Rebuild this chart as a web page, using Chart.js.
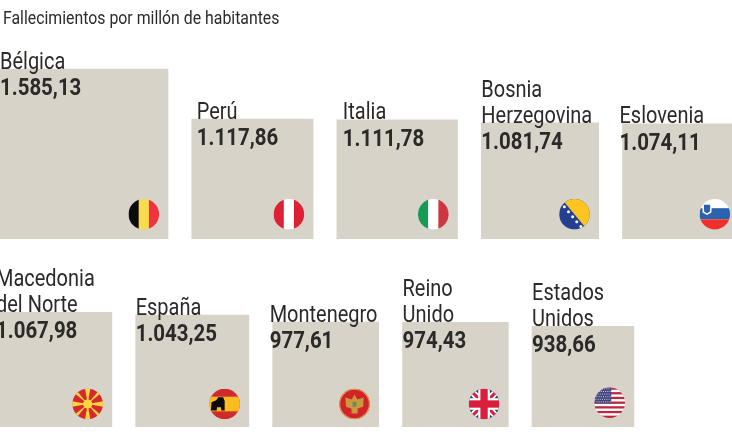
<!DOCTYPE html>
<html><head><meta charset="utf-8">
<style>html,body{margin:0;padding:0;background:#fff;overflow:hidden}canvas{display:block}</style>
<script src="https://cdn.jsdelivr.net/npm/chart.js@4/dist/chart.umd.min.js"></script>
</head><body>
<canvas id="c" width="732" height="435"></canvas>
<script>
const titleText = 'Fallecimientos por millón de habitantes';
const topNames = [['Bélgica'],['Perú'],['Italia'],['Bosnia','Herzegovina'],['Eslovenia']];
const topValues = [1585.13,1117.86,1111.78,1081.74,1074.11];
const topFlags = ['be','pe','it','ba','si'];
const topTextShift = [4,5,6,0,-3];
const topFlagLift = [24.4,24.4,24.4,24.4,24.4];
const bottomNames = [['Macedonia','del Norte'],['España'],['Montenegro'],['Reino','Unido'],['Estados','Unidos']];
const bottomValues = [1067.98,1043.25,977.61,974.43,938.66];
const bottomFlags = ['mk','es','me','gb','us'];
const bottomTextShift = [0,0,-3,0,0];
const bottomFlagLift = [22.7,22.7,22.7,22.7,24];

const CW=732, CH=435, START=-4, GAP=23.8, KX=0.1085, KY=0.107;
const BAR='#d7d3c8', INK='#2b2a29';
const fmt=v=>{const [a,b]=v.toFixed(2).split('.');return a.replace(/\B(?=(\d{3})+$)/g,'.')+','+b;};

const meta=[];
function row(values,names,flags,shifts,lifts,axis){
  let left=START;
  return values.map((v,i)=>{
    const w=v*KX, x=left+w/2; left+=w+GAP;
    meta.push({name:names[i],value:v,flag:flags[i],shift:shifts[i],lift:lifts[i]});
    return {label:names[i].join(' '),data:[{x:x,y:v}],yAxisID:axis,barThickness:w,
      backgroundColor:BAR,borderWidth:0,grouped:false};
  });
}
const datasets=[...row(topValues,topNames,topFlags,topTextShift,topFlagLift,'yTop'),
                ...row(bottomValues,bottomNames,bottomFlags,bottomTextShift,bottomFlagLift,'yBottom')];

function stripes(ctx,r,cols,vertical){
  const n=cols.length,s=2*r/n;
  cols.forEach((c,i)=>{ctx.fillStyle=c;
    if(vertical)ctx.fillRect(-r+i*s,-r,s+.3,2*r);else ctx.fillRect(-r,-r+i*s,2*r,s+.3);});
}
const flagPainters={
  be(c,r){stripes(c,r,['#0b0b0b','#f8dc4e','#ef3340'],true);},
  pe(c,r){stripes(c,r,['#dd2033','#ffffff','#dd2033'],true);},
  it(c,r){stripes(c,r,['#169b55','#ffffff','#cf3441'],true);},
  ba(c,r){
    c.fillStyle='#24408e';c.fillRect(-r,-r,2*r,2*r);
    c.fillStyle='#fcc521';c.beginPath();c.moveTo(-r*.9,-r*1.08);c.lineTo(r*1.1,-r*1.08);c.lineTo(r*1.1,r*1.32);c.closePath();c.fill();
    c.fillStyle='#fff';
    for(let t=0;t<6;t++){const a=-r*.66+t*r*.27,b=1.2*a+r*.3;c.beginPath();c.arc(a,b,1.5,0,7);c.fill();}
  },
  si(c,r){
    c.fillStyle='#ffffff';c.fillRect(-r,-r,2*r,2*r);
    c.fillStyle='#2b62ae';c.fillRect(-r,-r*.4,2*r,r*.73);
    c.fillStyle='#ef2f2b';c.fillRect(-r,r*.33,2*r,r);
    c.fillStyle='#fff';c.beginPath();c.moveTo(-r*.82,-r*.72);c.lineTo(-r*.2,-r*.72);c.lineTo(-r*.22,-r*.12);c.lineTo(-r*.5,r*.04);c.lineTo(-r*.8,-r*.12);c.closePath();c.fill();
    c.fillStyle='#2b62ae';c.beginPath();c.moveTo(-r*.72,-r*.62);c.lineTo(-r*.3,-r*.62);c.lineTo(-r*.32,-r*.18);c.lineTo(-r*.5,-r*.06);c.lineTo(-r*.7,-r*.18);c.closePath();c.fill();
  },
  mk(c,r){
    c.fillStyle='#d8282f';c.fillRect(-r,-r,2*r,2*r);
    c.fillStyle='#f9d83b';
    for(let i=0;i<8;i++){const a=i*Math.PI/4+Math.PI/2,sp=i%2?.1:.17;
      c.beginPath();c.moveTo(0,0);c.lineTo(Math.cos(a-sp)*r*1.1,Math.sin(a-sp)*r*1.1);c.lineTo(Math.cos(a+sp)*r*1.1,Math.sin(a+sp)*r*1.1);c.closePath();c.fill();}
    c.beginPath();c.arc(0,0,r*.3,0,7);c.fillStyle='#f9d83b';c.fill();
  },
  es(c,r){
    c.fillStyle='#cf2a2e';c.fillRect(-r,-r,2*r,2*r);
    c.fillStyle='#fcbb1e';c.fillRect(-r,-r*.48,2*r,r*.96);
    c.fillStyle='#0b0b0b';c.beginPath();
    c.moveTo(-r*.9,r*.42);c.lineTo(-r*.86,-r*.12);c.lineTo(-r*.55,-r*.24);c.lineTo(-r*.42,-r*.44);c.lineTo(-r*.1,-r*.44);c.lineTo(0,-r*.2);c.lineTo(0,r*.42);c.lineTo(-r*.22,r*.42);c.lineTo(-r*.24,r*.22);c.lineTo(-r*.5,r*.22);c.lineTo(-r*.52,r*.42);c.closePath();c.fill();
  },
  me(c,r){
    c.fillStyle='#d3232a';c.fillRect(-r,-r,2*r,2*r);
    c.strokeStyle='#d9a441';c.lineWidth=1.2;c.beginPath();c.arc(0,0,r-.4,0,7);c.stroke();
    c.fillStyle='#c99a3d';
    c.beginPath();c.moveTo(0,-r*.62);c.lineTo(r*.18,-r*.3);c.lineTo(r*.6,-r*.42);c.lineTo(r*.56,r*.18);c.lineTo(r*.2,r*.3);c.lineTo(r*.2,r*.62);c.lineTo(-r*.2,r*.62);c.lineTo(-r*.2,r*.3);c.lineTo(-r*.56,r*.18);c.lineTo(-r*.6,-r*.42);c.lineTo(-r*.18,-r*.3);c.closePath();c.fill();
    c.fillStyle='#6f8a5a';c.fillRect(-r*.13,-r*.14,r*.26,r*.32);
  },
  gb(c,r){
    c.fillStyle='#1d2f6b';c.fillRect(-r,-r,2*r,2*r);
    c.strokeStyle='#fff';c.lineWidth=r*.44;c.beginPath();c.moveTo(-r,-r);c.lineTo(r,r);c.moveTo(r,-r);c.lineTo(-r,r);c.stroke();
    c.strokeStyle='#d91f3d';c.lineWidth=r*.2;c.beginPath();c.moveTo(-r,-r);c.lineTo(r,r);c.moveTo(r,-r);c.lineTo(-r,r);c.stroke();
    c.fillStyle='#fff';c.fillRect(-r*.38,-r,r*.76,2*r);c.fillRect(-r,-r*.38,2*r,r*.76);
    c.fillStyle='#d91f3d';c.fillRect(-r*.24,-r,r*.48,2*r);c.fillRect(-r,-r*.24,2*r,r*.48);
  },
  us(c,r){
    const cols=[];for(let i=0;i<13;i++)cols.push(i%2?'#ffffff':'#c0283f');
    stripes(c,r,cols,false);
    c.fillStyle='#41467f';c.fillRect(-r,-r,r*1.1,r*1.04);
    c.fillStyle='rgba(255,255,255,.75)';
    for(let a=0;a<6;a++)for(let b=0;b<7;b++){c.fillRect(-r+1+b*2.2+(a%2)*1,-r+1+a*2.6,1,1);}
  }
};

function drawLine(c,txt,x,y,font,sx){
  c.save();c.font=font;c.translate(x,y);c.scale(sx,1);c.fillText(txt,0,0);c.restore();
}
const NARROW='Roboto,"Liberation Sans",sans-serif';
const overlay={
  id:'overlay',
  afterDatasetsDraw(chart){
    const c=chart.ctx;
    c.save();c.fillStyle=INK;c.textBaseline='alphabetic';c.textAlign='left';
    drawLine(c,titleText,3,24,'18px '+NARROW,.88);
    chart.data.datasets.forEach((d,i)=>{
      const el=chart.getDatasetMeta(i).data[0],m=meta[i];
      const left=el.x-el.width/2,right=el.x+el.width/2,top=el.y,bottom=el.base;
      c.fillStyle=INK;
      const lines=m.name;
      lines.forEach((t,j)=>drawLine(c,t,left+m.shift,top-0.3-(lines.length-1-j)*26,'23.5px '+NARROW,.85));
      drawLine(c,fmt(m.value),left+m.shift,top+25.8,'bold 23.5px '+NARROW,.87);
      const fx=right-24.2,fy=bottom-m.lift,r=15.3;
      c.save();c.translate(fx,fy);c.beginPath();c.arc(0,0,r,0,Math.PI*2);c.clip();
      flagPainters[m.flag](c,r);c.restore();
    });
    c.restore();
  }
};
const rangeY=CH/KY;
new Chart(document.getElementById('c'),{
  type:'bar',
  data:{datasets},
  options:{
    responsive:false,animation:false,events:[],
    layout:{padding:0},
    plugins:{legend:{display:false},tooltip:{enabled:false},title:{display:false}},
    scales:{
      x:{type:'linear',min:0,max:CW,display:false,offset:false},
      yTop:{type:'linear',display:false,max:238.7/KY,min:238.7/KY-rangeY},
      yBottom:{type:'linear',display:false,max:426.7/KY,min:426.7/KY-rangeY}
    }
  },
  plugins:[overlay]
});
</script>
</body></html>
